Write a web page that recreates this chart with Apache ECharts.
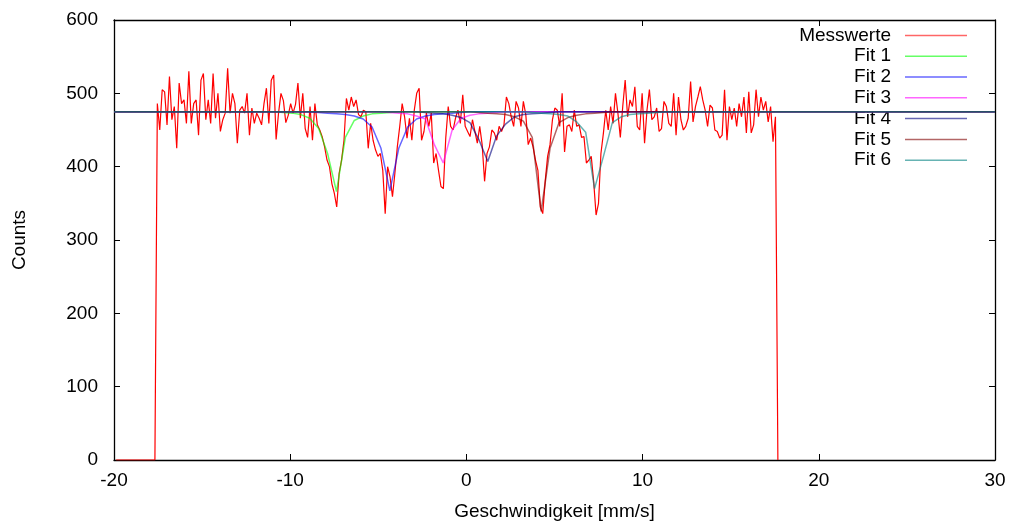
<!DOCTYPE html>
<html><head><meta charset="utf-8">
<script src="https://cdn.jsdelivr.net/npm/echarts@6/dist/echarts.min.js"></script>
<style>html,body{margin:0;padding:0;background:#fff}#c{width:1015px;height:522px}</style>
</head><body><div id="c"></div>
<script>
// ---- data ----
const seriesNames = ['Messwerte', 'Fit 1', 'Fit 2', 'Fit 3', 'Fit 4', 'Fit 5', 'Fit 6'];
const xTicks = [-20, -10, 0, 10, 20, 30];
const yTicks = [0, 100, 200, 300, 400, 500, 600];
const xTitle = 'Geschwindigkeit [mm/s]';
const yTitle = 'Counts';

// measured spectrum: velocity calibration (channel start / step) and counts per channel
const velStart = -19.879;
const velStep = 0.13757;
const counts = [
  0,0,0,0,0,0,0,0,0,0,0,0,0,0,0,0,0,
  486,450,505,502,457,523,464,482,425,514,486,491,459,530,459,486,491,443,518,527,
  464,491,459,527,466,500,448,464,473,534,473,500,486,432,477,482,473,500,443,480,
  459,473,466,457,486,507,459,518,525,437,473,
  500,490,460,470,486,473,485,514,466,500,452,440,482,436,486,457,450,441,427,409,
  400,377,364,345,391,409,436,493,477,495,482,491,471,468,477,475,425,459,436,423,
  414,418,395,336,400,386,359,391,427,455,486,
  468,439,466,436,477,500,507,436,448,473,455,473,405,418,395,373,370,440,482,455,
  450,466,477,459,498,455,448,441,464,448,432,455,430,380,418,427,450,446,436,455,
  448,457,495,486,468,455,489,480,455,489,471,430,
  439,427,409,395,345,336,380,414,430,464,480,477,455,500,420,455,457,448,477,455,
  457,440,441,405,409,414,380,334,350,418,445,477,450,482,459,500,473,440,482,518,
  468,491,482,509,455,450,500,432,477,505,464,468,
  480,448,452,489,482,459,455,500,443,495,464,450,455,466,516,461,482,495,509,491,
  477,455,484,480,450,448,439,443,505,436,482,464,480,455,486,468,495,446,502,446,
  457,505,468,495,477,489,461,482,434,468,
  0
];

// fit curves, sampled at 100 points from fitXStart to fitXEnd
const fitXStart = -20;
const fitXEnd = 30;
const fit1 = [
  475,475,475,475,475,475,475,475,475,475,475,475,475,475,475,475,475,475,475,474,473,471,466,452,418,
  366,440,463,469,472,473,474,475,475,475,475,475,475,475,475,475,475,475,475,475,475,475,475,475,475,
  475,475,475,475,475,475,475,475,475,475,475,475,475,475,475,475,475,475,475,475,475,475,475,475,475,
  475,475,475,475,475,475,475,475,475,475,475,475,475,475,475,475,475,475,475,475,475,475,475,475,475
];
const fit2 = [
  475,475,475,475,475,475,475,475,475,475,475,475,475,475,475,475,475,475,475,475,475,475,475,474,473,
  472,471,469,465,454,425,367,425,454,465,469,471,472,473,474,475,475,475,475,475,475,475,475,475,475,
  475,475,475,475,475,475,475,475,475,475,475,475,475,475,475,475,475,475,475,475,475,475,475,475,475,
  475,475,475,475,475,475,475,475,475,475,475,475,475,475,475,475,475,475,475,475,475,475,475,475,475
];
const fit3 = [
  475,475,475,475,475,475,475,475,475,475,475,475,475,475,475,475,475,475,475,475,475,475,475,475,475,
  475,475,475,475,475,475,474,473,472,469,465,430,405,450,466,470,472,473,474,475,475,475,475,475,475,
  475,475,475,475,475,475,475,475,475,475,475,475,475,475,475,475,475,475,475,475,475,475,475,475,475,
  475,475,475,475,475,475,475,475,475,475,475,475,475,475,475,475,475,475,475,475,475,475,475,475,475
];
const fit4 = [
  475,475,475,475,475,475,475,475,475,475,475,475,475,475,475,475,475,475,475,475,475,475,475,475,475,
  475,475,475,475,475,475,475,475,475,475,474,473,472,470,467,460,437,407,442,458,468,471,472,473,474,
  475,475,475,475,475,475,475,475,475,475,475,475,475,475,475,475,475,475,475,475,475,475,475,475,475,
  475,475,475,475,475,475,475,475,475,475,475,475,475,475,475,475,475,475,475,475,475,475,475,475,475
];
const fit5 = [
  475,475,475,475,475,475,475,475,475,475,475,475,475,475,475,475,475,475,475,475,475,475,475,475,475,
  475,475,475,475,475,475,475,475,475,475,475,475,475,475,475,475,474,473,472,471,468,462,440,339,425,
  460,467,470,472,473,474,475,475,475,475,475,475,475,475,475,475,475,475,475,475,475,475,475,475,475,
  475,475,475,475,475,475,475,475,475,475,475,475,475,475,475,475,475,475,475,475,475,475,475,475,475
];
const fit6 = [
  475,475,475,475,475,475,475,475,475,475,475,475,475,475,475,475,475,475,475,475,475,475,475,475,475,
  475,475,475,475,475,475,475,475,475,475,475,475,475,475,475,475,475,475,475,475,475,475,474,473,472,
  471,469,461,447,370,414,460,468,471,472,473,474,475,475,475,475,475,475,475,475,475,475,475,475,475,
  475,475,475,475,475,475,475,475,475,475,475,475,475,475,475,475,475,475,475,475,475,475,475,475,475
];

// ---- build ----
const colors = ['#ff0000', '#00ff00', '#0000ff', '#ff00ff', '#000080', '#800000', '#008080'];
const FONT = '"Liberation Sans", Arial, Helvetica, sans-serif';
const FS = 19;
const measured = counts.map((c, i) => [velStart + i * velStep, c]);
const fits = [fit1, fit2, fit3, fit4, fit5, fit6].map(arr =>
  arr.map((v, i) => [fitXStart + i * (fitXEnd - fitXStart) / (arr.length - 1), v]));

const chart = echarts.init(document.getElementById('c'), null, { renderer: 'canvas' });
const xMin = xTicks[0], xMax = xTicks[xTicks.length - 1], xInt = xTicks[1] - xTicks[0];
const yMin = yTicks[0], yMax = yTicks[yTicks.length - 1], yInt = yTicks[1] - yTicks[0];
const axLine = { show: true, onZero: false, lineStyle: { color: '#000', width: 1.3 } };
const tick = { show: true, inside: true, length: 6, lineStyle: { color: '#000', width: 1 } };
const label = { color: '#000', fontSize: FS, fontFamily: FONT };

const series = [{
  name: seriesNames[0], type: 'line', data: measured, symbol: 'none', showSymbol: false,
  lineStyle: { color: colors[0], width: 1.2 }, itemStyle: { color: colors[0] }, z: 2, silent: true
}];
fits.forEach((d, k) => series.push({
  name: seriesNames[k + 1], type: 'line', data: d, symbol: 'none', showSymbol: false,
  lineStyle: { color: colors[k + 1], width: 1.5, opacity: 0.6 }, itemStyle: { color: colors[k + 1] }, z: 3 + k, silent: true
}));

chart.setOption({
  animation: false,
  backgroundColor: '#fff',
  grid: { left: 114, right: 20, top: 20, bottom: 62, containLabel: false, outerBoundsMode: 'none' },
  xAxis: [{
    type: 'value', min: xMin, max: xMax, interval: xInt, position: 'bottom',
    axisLine: axLine, axisTick: tick, splitLine: { show: false },
    axisLabel: Object.assign({ margin: 11 }, label),
    name: xTitle, nameLocation: 'middle', nameGap: 42,
    nameTextStyle: { color: '#000', fontSize: FS, fontFamily: FONT }
  }, {
    type: 'value', min: xMin, max: xMax, interval: xInt, position: 'top',
    axisLine: axLine, axisTick: tick, splitLine: { show: false }, axisLabel: { show: false }
  }],
  yAxis: [{
    type: 'value', min: yMin, max: yMax, interval: yInt, position: 'left',
    axisLine: axLine, axisTick: tick, splitLine: { show: false },
    axisLabel: Object.assign({ margin: 16 }, label),
    name: yTitle, nameLocation: 'middle', nameGap: 85, nameRotate: 90,
    nameTextStyle: { color: '#000', fontSize: FS, fontFamily: FONT }
  }, {
    type: 'value', min: yMin, max: yMax, interval: yInt, position: 'right',
    axisLine: axLine, axisTick: tick, splitLine: { show: false }, axisLabel: { show: false }
  }],
  legend: {
    orient: 'vertical', right: 48, top: 25, padding: 0, itemGap: 0,
    align: 'right', icon: 'rect', itemWidth: 62, itemHeight: 1.5,
    itemStyle: { opacity: 0.6 },
    selectedMode: false, data: seriesNames,
    formatter: n => '{a|' + n + '}',
    textStyle: {
      color: '#000', fontSize: FS, fontFamily: FONT,
      rich: { a: { width: 100, align: 'right', fontSize: FS, fontFamily: FONT, color: '#000', height: 20.8, lineHeight: 20.8, padding: [0, 9, 0, 0] } }
    }
  },
  series: series
});
</script></body></html>
